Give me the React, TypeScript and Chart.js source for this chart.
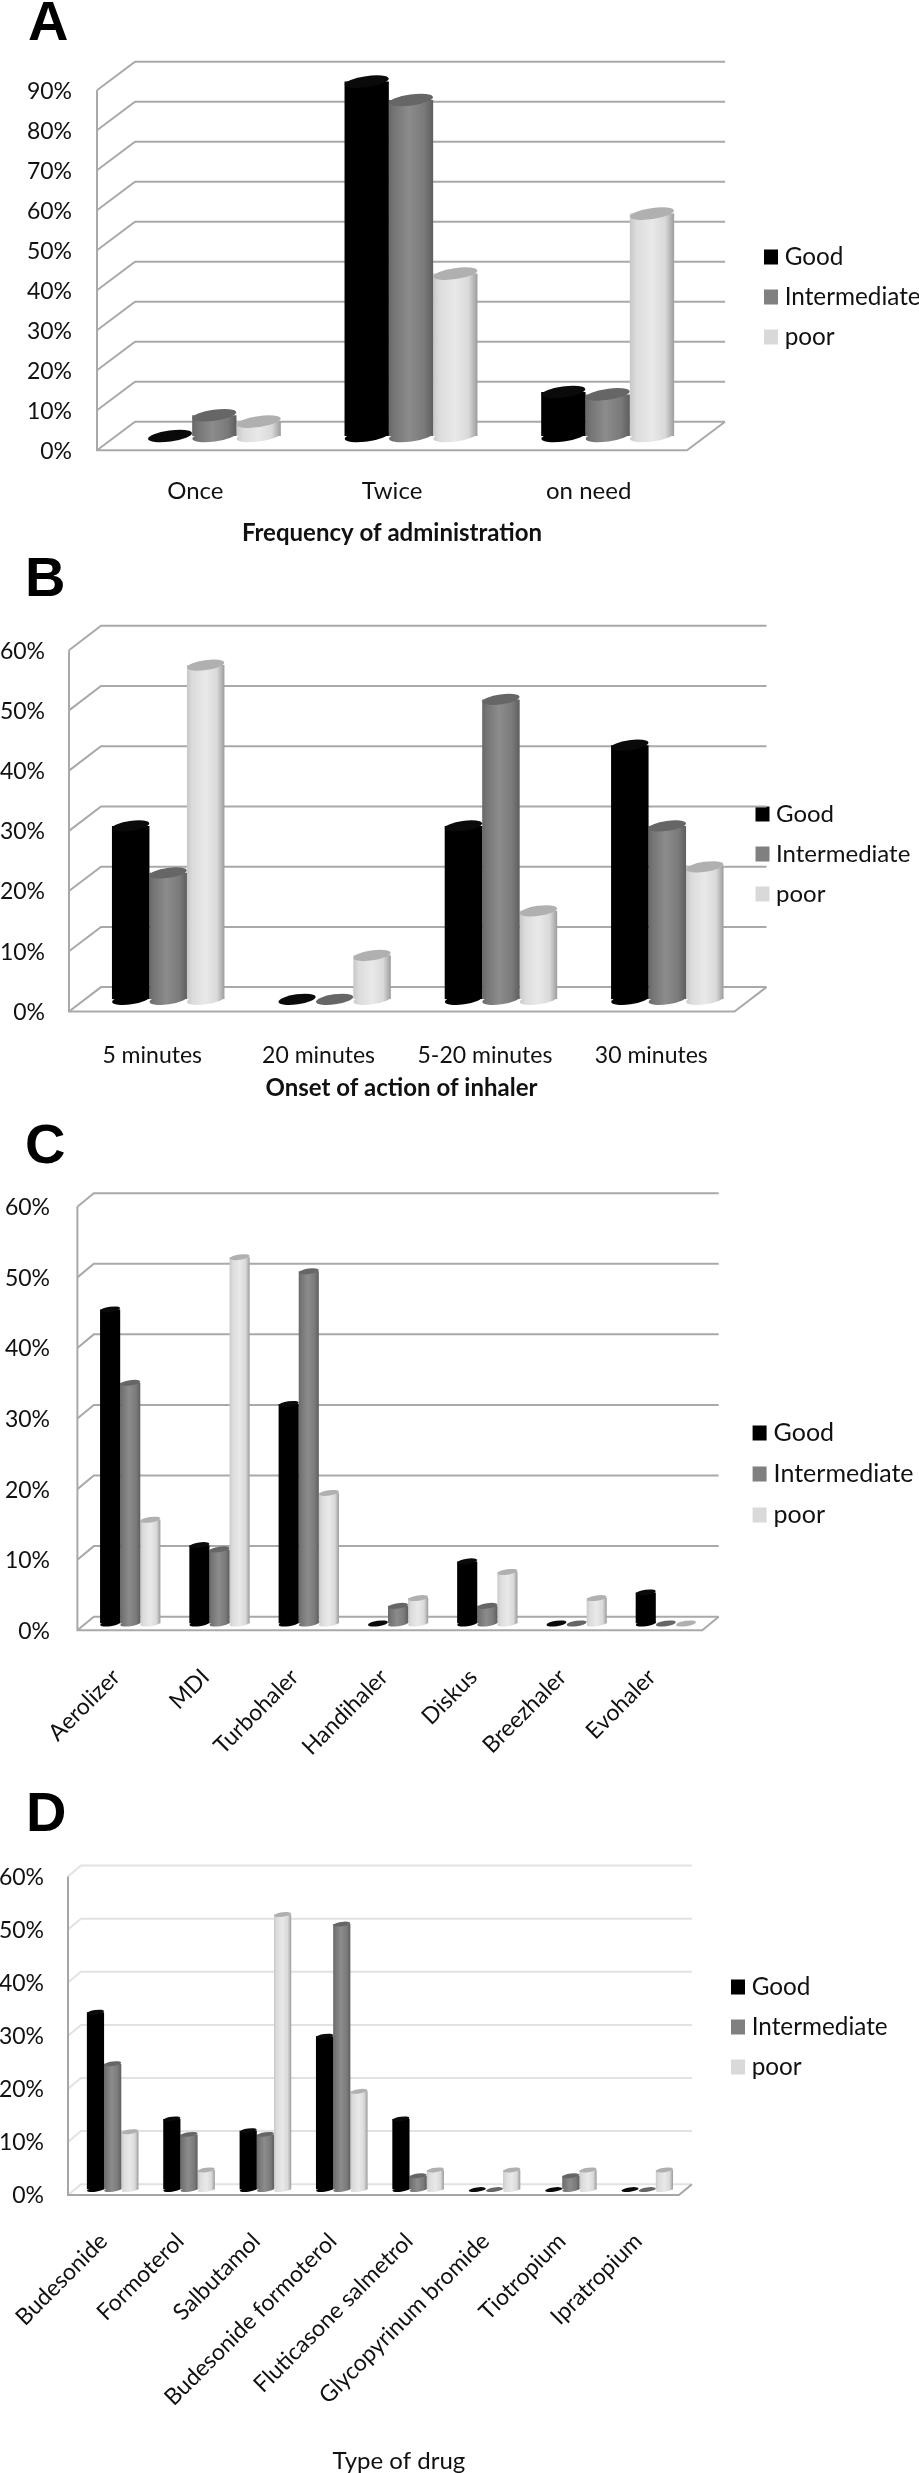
import React, { useEffect, useRef } from "react";
import { Chart, registerables } from "chart.js";

Chart.register(...registerables);

const seriesNames = ["Good", "Intermediate", "poor"];
const legendColors = ["#000000", "#808080", "#d9d9d9"];
const capColors = ["#0a0a0a", "#666666", "#b0b0b0"];

const catsA = ["Once", "Twice", "on need"];
const goodA = [0, 88.6, 11];
const interA = [5.2, 84, 10.4];
const poorA = [3.6, 40.6, 55.6];

const catsB = ["5 minutes", "20 minutes", "5-20 minutes", "30 minutes"];
const goodB = [28.8, 0, 28.8, 42.2];
const interB = [21, 0, 49.8, 28.8];
const poorB = [55.5, 7.3, 14.7, 22];

const catsC = ["Aerolizer", "MDI", "Turbohaler", "Handihaler", "Diskus", "Breezhaler", "Evohaler"];
const goodC = [44.5, 11.1, 31.1, 0, 8.8, 0, 4.4];
const interC = [34.1, 10.5, 49.9, 2.5, 2.5, 0, 0];
const poorC = [14.7, 51.9, 18.5, 3.6, 7.3, 3.6, 0];

const catsD = [
  "Budesonide",
  "Formoterol",
  "Salbutamol",
  "Budesonide formoterol",
  "Fluticasone salmetrol",
  "Glycopyrinum bromide",
  "Tiotropium",
  "Ipratropium",
];
const goodD = [33.4, 13.3, 11.1, 28.9, 13.3, 0, 0, 0];
const interD = [23.7, 10.4, 10.4, 50, 2.6, 0, 2.6, 0];
const poorD = [10.9, 3.7, 51.8, 18.5, 3.7, 3.7, 3.7, 3.7];

type Panel = {
  letter: string;
  letterX: number;
  letterY: number;
  cats: string[];
  values: number[][];
  yMax: number;
  canvasTop: number;
  canvasH: number;
  left: number;
  right: number;
  yZero: number;
  yTop: number;
  dx: number;
  dy: number;
  ry: number;
  labelRight: number;
  tickFont: number;
  xFont: number;
  tickPad: number;
  xLabelShift: number;
  rotation: number;
  title?: string;
  titleBold?: boolean;
  titleY?: number;
  titleShift?: number;
  titleFont?: number;
  legendX: number;
  legendY: number;
  legendStep: number;
  legendFont: number;
  wallColor: string;
  frontColor: string;
};

const panels: Panel[] = [
  {
    letter: "A", letterX: 28, letterY: -7,
    cats: catsA, values: [goodA, interA, poorA], yMax: 90,
    canvasTop: 0, canvasH: 560, left: 116, right: 706, yZero: 436, yTop: 76,
    dx: 19, dy: 14.3, ry: 5.5, labelRight: 72, tickFont: 23, xFont: 24, tickPad: 41, xLabelShift: -19, rotation: 0,
    title: "Frequency of administration", titleBold: true, titleY: 533, titleShift: -19, titleFont: 24,
    legendX: 764, legendY: 257, legendStep: 40, legendFont: 24.3,
    wallColor: "#a9a9a9", frontColor: "#a9a9a9",
  },
  {
    letter: "B", letterX: 25, letterY: 549,
    cats: catsB, values: [goodB, interB, poorB], yMax: 60,
    canvasTop: 560, canvasH: 550, left: 85, right: 750.5, yZero: 999.3, yTop: 638,
    dx: 16, dy: 12.2, ry: 5, labelRight: 45, tickFont: 23, xFont: 23, tickPad: 42, xLabelShift: -16, rotation: 0,
    title: "Onset of action of inhaler", titleBold: true, titleY: 1088, titleShift: -16.3, titleFont: 24,
    legendX: 755.5, legendY: 814, legendStep: 40, legendFont: 24,
    wallColor: "#a9a9a9", frontColor: "#a9a9a9",
  },
  {
    letter: "C", letterX: 25, letterY: 1116,
    cats: catsC, values: [goodC, interC, poorC], yMax: 60,
    canvasTop: 1110, canvasH: 680, left: 85.6, right: 710.5, yZero: 1623.5, yTop: 1200,
    dx: 8.2, dy: 6.8, ry: 2.7, labelRight: 50, tickFont: 23, xFont: 23, tickPad: 40, xLabelShift: -14, rotation: 45,
    legendX: 752.6, legendY: 1433, legendStep: 41, legendFont: 25,
    wallColor: "#a9a9a9", frontColor: "#a9a9a9",
  },
  {
    letter: "D", letterX: 26, letterY: 1784,
    cats: catsD, values: [goodD, interD, poorD], yMax: 60,
    canvasTop: 1790, canvasH: 683, left: 74.5, right: 685.4, yZero: 2189.6, yTop: 1871,
    dx: 6.5, dy: 5.4, ry: 2.2, labelRight: 44, tickFont: 23, xFont: 23, tickPad: 38, xLabelShift: -9, rotation: 45,
    title: "Type of drug", titleBold: false, titleY: 2461, titleShift: 19, titleFont: 24,
    legendX: 731, legendY: 1987, legendStep: 40, legendFont: 24.3,
    wallColor: "#e2e2e2", frontColor: "#a6a6a6",
  },
];

const CATEGORY_SHARE = 0.676;
const FONT = "Lato";
const SWATCH_STROKE = 11;

const stopsBySeries: [number, string][][] = [
  [[0, "#000000"], [1, "#000000"]],
  [[0, "#686868"], [0.12, "#757575"], [0.45, "#8c8c8c"], [0.8, "#7a7a7a"], [1, "#5e5e5e"]],
  [[0, "#c8c8c8"], [0.15, "#dcdcdc"], [0.5, "#e9e9e9"], [0.8, "#d9d9d9"], [1, "#9c9c9c"]],
];

function barGeometry(chart: any, seriesIndex: number, index: number) {
  const xs = chart.scales.x;
  const n = xs.getLabels().length;
  const w = (xs.width / n) * (CATEGORY_SHARE / 3);
  const center = xs.getPixelForValue(index) + (seriesIndex - 1) * w;
  return { x0: center - w / 2, x1: center + w / 2, center, w };
}

function cylinderFill(chart: any, seriesIndex: number, index: number) {
  const g = barGeometry(chart, seriesIndex, index);
  const grad = chart.ctx.createLinearGradient(g.x0, 0, g.x1, 0);
  stopsBySeries[seriesIndex].forEach(([p, c]) => grad.addColorStop(p, c));
  return grad;
}

function makePlugin(p: Panel) {
  return {
    id: "walls" + p.letter,
    beforeLayout(chart: any) {
      const lg = chart.legend;
      if (lg && !lg.__fixed) {
        lg.__fixed = true;
        const fit = lg.fit;
        lg.fit = function () {
          fit.call(this);
          this.width = 919 - p.right;
        };
      }
    },
    beforeDraw(chart: any) {
      const lg = chart.legend;
      const pad = chart.options.plugins.legend.labels.padding;
      const relRow = p.legendY - p.canvasTop;
      lg.left = p.legendX + SWATCH_STROKE / 2 - pad;
      lg.right = 919;
      lg.width = lg.right - lg.left;
      lg.top = relRow - pad - p.legendFont / 2;
      lg.bottom = lg.top + p.legendStep * 4;
      lg.height = lg.bottom - lg.top;
      const xs = chart.scales.x;
      if (p.titleShift && !xs.__shifted) {
        xs.__shifted = true;
        const drawTitle = xs.drawTitle;
        xs.drawTitle = function (...a: any[]) {
          chart.ctx.save();
          chart.ctx.translate(p.titleShift, 0);
          drawTitle.apply(this, a);
          chart.ctx.restore();
        };
      }
    },
    beforeDatasetsDraw(chart: any) {
      const { ctx, chartArea } = chart;
      const ys = chart.scales.y;
      const { left, right } = chartArea;
      const zero = ys.getPixelForValue(0);
      const top = ys.getPixelForValue(p.yMax);
      ctx.save();
      ctx.lineWidth = 2;
      ctx.strokeStyle = p.wallColor;
      ys.ticks.forEach((t: any) => {
        const y = ys.getPixelForValue(t.value);
        ctx.beginPath();
        ctx.moveTo(left - p.dx, y + p.dy);
        ctx.lineTo(left + p.dx, y - p.dy);
        ctx.lineTo(right + p.dx, y - p.dy);
        ctx.stroke();
      });
      ctx.strokeStyle = p.frontColor;
      ctx.beginPath();
      ctx.moveTo(left - p.dx, top + p.dy);
      ctx.lineTo(left - p.dx, zero + p.dy);
      ctx.lineTo(right - p.dx, zero + p.dy);
      ctx.lineTo(right + p.dx, zero - p.dy);
      ctx.stroke();
      ctx.restore();
    },
    afterDatasetsDraw(chart: any) {
      const { ctx } = chart;
      const ys = chart.scales.y;
      const tilt = -0.14;
      ctx.save();
      p.values.forEach((series, s) => {
        series.forEach((v, i) => {
          const g = barGeometry(chart, s, i);
          const base = ys.getPixelForValue(0);
          const head = ys.getPixelForValue(v);
          if (v > 0) {
            ctx.fillStyle = cylinderFill(chart, s, i);
            ctx.beginPath();
            ctx.ellipse(g.center, base, g.w / 2, p.ry, tilt, 0, Math.PI * 2);
            ctx.fill();
          }
          ctx.fillStyle = capColors[s];
          ctx.beginPath();
          ctx.ellipse(g.center, head, g.w / 2, p.ry, tilt, 0, Math.PI * 2);
          ctx.fill();
        });
      });
      ctx.restore();
    },
  };
}

function PanelChart({ p }: { p: Panel }) {
  const ref = useRef<HTMLCanvasElement>(null);
  useEffect(() => {
    const areaBottom = p.yZero - p.canvasTop;
    const titleLine = (p.titleFont || 22) * 1.2;
    const scaleBottom = p.titleY ? p.titleY - p.canvasTop + titleLine / 2 : p.canvasH;
    const chart = new Chart(ref.current as HTMLCanvasElement, {
      type: "bar",
      data: {
        labels: p.cats,
        datasets: seriesNames.map((name, s) => ({
          label: name,
          data: p.values[s],
          borderWidth: 0,
          categoryPercentage: CATEGORY_SHARE,
          barPercentage: 1,
          backgroundColor: (c: any) =>
            c.dataIndex === undefined ? legendColors[s] : cylinderFill(c.chart, s, c.dataIndex),
        })),
      },
      options: {
        animation: false,
        responsive: false,
        devicePixelRatio: 1,
        layout: {
          autoPadding: false,
          padding: {
            left: 0,
            right: 0,
            top: p.yTop - p.canvasTop,
            bottom: p.canvasH - scaleBottom,
          },
        },
        plugins: {
          tooltip: { enabled: false },
          legend: {
            position: "right",
            align: "start",
            labels: {
              boxWidth: 3,
              boxHeight: 4,
              padding: p.legendStep - p.legendFont,
              color: "#111111",
              font: { family: FONT, size: p.legendFont },
              generateLabels: () =>
                seriesNames.map((name, s) => ({
                  text: name,
                  fillStyle: legendColors[s],
                  strokeStyle: legendColors[s],
                  lineWidth: SWATCH_STROKE,
                  hidden: false,
                  datasetIndex: s,
                  fontColor: "#111111",
                })),
            },
          },
        },
        scales: {
          x: {
            grid: { display: false, drawTicks: false },
            border: { display: false },
            afterFit: (s: any) => {
              s.height = scaleBottom - areaBottom;
              s.paddingLeft = 0;
              s.paddingRight = 0;
            },
            ticks: {
              autoSkip: false,
              color: "#111111",
              font: { family: FONT, size: p.xFont },
              padding: p.tickPad,
              labelOffset: p.xLabelShift,
              minRotation: p.rotation,
              maxRotation: p.rotation,
            },
            title: p.title
              ? {
                  display: true,
                  text: p.title,
                  color: "#111111",
                  padding: 0,
                  font: {
                    family: FONT,
                    size: p.titleFont,
                    weight: p.titleBold ? "bold" : "normal",
                  },
                }
              : { display: false },
          },
          y: {
            min: 0,
            max: p.yMax,
            grid: { display: false, drawTicks: false },
            border: { display: false },
            afterFit: (s: any) => {
              s.width = p.left;
              s.paddingTop = 0;
              s.paddingBottom = 0;
            },
            ticks: {
              stepSize: 10,
              color: "#111111",
              font: { family: FONT, size: p.tickFont },
              padding: p.left - p.labelRight,
              labelOffset: p.dy + 1,
              callback: (v: any) => v + "%",
            },
          },
        },
      },
      plugins: [makePlugin(p)],
    } as any);
    return () => chart.destroy();
  }, [p]);
  return (
    <canvas
      ref={ref}
      width={919}
      height={p.canvasH}
      style={{ position: "absolute", left: 0, top: p.canvasTop, width: 919, height: p.canvasH, display: "block" }}
    />
  );
}

export default function App() {
  return (
    <div
      style={{
        position: "absolute",
        left: 0,
        top: 0,
        width: 919,
        height: 2473,
        overflow: "hidden",
        background: "#ffffff",
      }}
    >
      {panels.map((p) => (
        <PanelChart key={p.letter} p={p} />
      ))}
      {panels.map((p) => (
        <div
          key={"L" + p.letter}
          style={{
            position: "absolute",
            left: p.letterX,
            top: p.letterY,
            font: "bold 56px/56px 'Liberation Sans', Arial, sans-serif",
            color: "#000",
          }}
        >
          {p.letter}
        </div>
      ))}
    </div>
  );
}
